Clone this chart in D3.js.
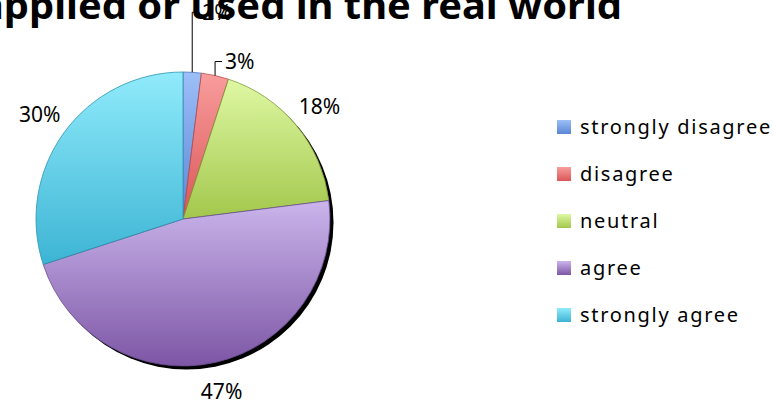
<!DOCTYPE html>
<html>
<head>
<meta charset="utf-8">
<script src="https://cdn.jsdelivr.net/npm/d3@7"></script>
<style>
  html, body { margin: 0; padding: 0; background: #fff; }
  svg { display: block; }
</style>
</head>
<body>
<svg id="chart" width="774" height="405"></svg>
<script>
// Survey responses (percent of respondents)
const categories = ["strongly disagree", "disagree", "neutral", "agree", "strongly agree"];
const values = [2, 3, 18, 47, 30];
const valueLabels = ["2%", "3%", "18%", "47%", "30%"];
const titleText = "applied or used in the real world";

// Gradient colours per slice: light top, darker bottom, plus an edge colour
const topColors = ["#9dbff8", "#f99d9d", "#def8a3", "#cab5eb", "#90ebfb"];
const bottomColors = ["#5a86d5", "#d95656", "#a3c74c", "#7d56a5", "#3db4d4"];
const edgeColors = ["#4f77bd", "#be4b4b", "#7d9a38", "#6a4c92", "#2f95af"];

const svg = d3.select("#chart");
const cx = 183, cy = 219, r = 147;

const defs = svg.append("defs");
categories.forEach((c, i) => {
  const g = defs.append("linearGradient")
    .attr("id", "grad" + i)
    .attr("x1", 0).attr("y1", 0).attr("x2", 0).attr("y2", 1);
  g.append("stop").attr("offset", "0%").attr("stop-color", topColors[i]);
  g.append("stop").attr("offset", "100%").attr("stop-color", bottomColors[i]);
});

// Title (runs off the left edge of the canvas)
svg.append("text")
  .attr("x", 622).attr("y", 19)
  .attr("text-anchor", "end")
  .attr("font-family", "'Noto Sans', 'Open Sans', sans-serif")
  .attr("font-weight", "bold")
  .attr("font-size", 38)
  .attr("textLength", 642)
  .attr("lengthAdjust", "spacingAndGlyphs")
  .attr("fill", "#000")
  .text(titleText);

const pie = d3.pie().sort(null).value(d => d);
const arcs = pie(values);
const arc = d3.arc().innerRadius(0).outerRadius(r);

const pieG = svg.append("g").attr("transform", `translate(${cx},${cy})`);

// Drop shadow behind the disc
pieG.append("circle")
  .attr("cx", 3.5).attr("cy", 3.5).attr("r", r)
  .attr("fill", "#000");

pieG.selectAll("path.slice")
  .data(arcs)
  .join("path")
  .attr("class", "slice")
  .attr("d", arc)
  .attr("fill", (d, i) => `url(#grad${i})`)
  .attr("stroke", (d, i) => edgeColors[i])
  .attr("stroke-width", 0.8);

// Data labels: large slices sit outside along the slice's mid-angle,
// the two narrow slices use elbow leader lines.
const labelFont = "'Noto Sans', 'Open Sans', sans-serif";
const labelArc = d3.arc().innerRadius(177).outerRadius(177);
const leaderRise = [60, 14, 0, 0, 0];

arcs.forEach((d, i) => {
  const mid = (d.startAngle + d.endAngle) / 2;
  if (leaderRise[i] > 0) {
    const sx = Math.sin(mid) * r, sy = -Math.cos(mid) * r;
    const ey = sy - leaderRise[i];
    const ex = sx + 7;
    pieG.append("path")
      .attr("d", `M${sx},${sy}V${ey}H${ex}`)
      .attr("fill", "none")
      .attr("stroke", "#000")
      .attr("stroke-width", 1);
    pieG.append("text")
      .attr("x", ex + 3).attr("y", ey)
      .attr("dy", "0.35em")
      .attr("font-family", labelFont)
      .attr("font-size", 21)
      .attr("fill", "#000")
      .text(valueLabels[i]);
  } else {
    const [lx, ly] = labelArc.centroid(d);
    pieG.append("text")
      .attr("x", lx).attr("y", ly)
      .attr("dy", "0.35em")
      .attr("text-anchor", "middle")
      .attr("font-family", labelFont)
      .attr("font-size", 21)
      .attr("fill", "#000")
      .text(valueLabels[i]);
  }
});

// Legend
const legendY = d3.scalePoint().domain(categories).range([127, 315]);
const legend = svg.append("g");
categories.forEach((c, i) => {
  const y = legendY(c);
  legend.append("rect")
    .attr("x", 557).attr("y", y - 7)
    .attr("width", 14).attr("height", 14)
    .attr("fill", `url(#grad${i})`);
  legend.append("text")
    .attr("x", 580).attr("y", y)
    .attr("dy", "0.36em")
    .attr("font-family", labelFont)
    .attr("font-size", 20)
    .attr("letter-spacing", "1.7px")
    .attr("fill", "#000")
    .text(c);
});
</script>
</body>
</html>
